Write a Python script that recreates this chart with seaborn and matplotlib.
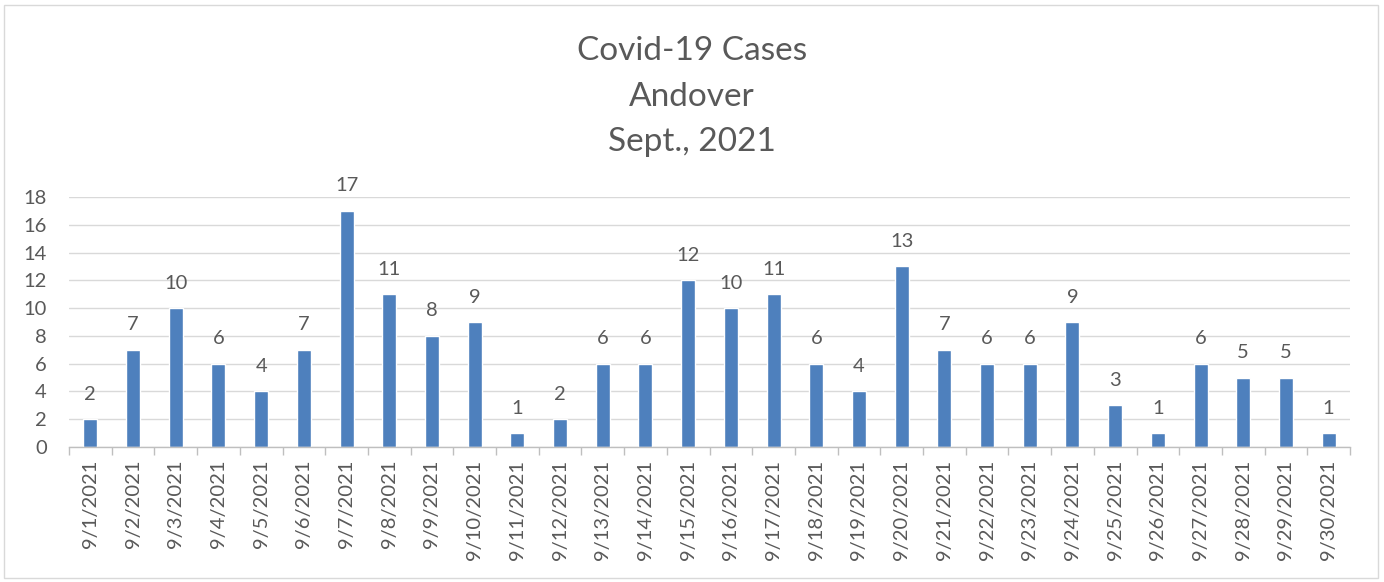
import matplotlib
matplotlib.use("Agg")
import matplotlib.pyplot as plt
import seaborn as sns
import pandas as pd
from matplotlib.patches import Rectangle
from matplotlib.ticker import FixedLocator

dates = [f"9/{d}/2021" for d in range(1, 31)]
cases = [2, 7, 10, 6, 4, 7, 17, 11, 8, 9, 1, 2, 6, 6, 12, 10, 11, 6, 4, 13,
         7, 6, 6, 9, 3, 1, 6, 5, 5, 1]
title_lines = ["Covid-19 Cases", "Andover", "Sept., 2021"]
yticks = list(range(0, 19, 2))

sns.set_theme(style="white")
plt.rcParams['font.family'] = ['Lato', 'DejaVu Sans']
TXT = "#595959"
BAR = "#4E80BD"

df = pd.DataFrame({"date": dates, "cases": cases})

fig = plt.figure(figsize=(13.84, 5.82), dpi=100)
ax = fig.add_axes([69/1384, 1-447/582, (1350-69)/1384, (447-197)/582])

sns.barplot(data=df, x="date", y="cases", order=dates, color=BAR,
            width=0.33, saturation=1, ax=ax)

ax.set_ylim(0, 18)
ax.set_xlim(-0.5, len(dates)-0.5)
ax.set_yticks(yticks)
ax.set_yticklabels([str(t) for t in yticks], color=TXT, fontsize=14.5)
ax.set_xticks(range(len(dates)))
ax.set_xticklabels(dates, rotation=90, color=TXT, fontsize=14.5)
ax.tick_params(axis="y", length=0, pad=16)
ax.tick_params(axis="x", length=0, pad=9)
ax.set_xlabel("")
ax.set_ylabel("")
ax.grid(axis="y", color="#d9d9d9", linewidth=1)
ax.set_axisbelow(True)
for s in ["top", "right", "left"]:
    ax.spines[s].set_visible(False)
ax.spines["bottom"].set_color("#bfbfbf")
ax.spines["bottom"].set_linewidth(1)

# category boundary tick marks
ax.xaxis.set_minor_locator(FixedLocator([i - 0.5 for i in range(len(dates) + 1)]))
ax.tick_params(axis="x", which="minor", length=6, color="#bfbfbf", width=1, bottom=True)

for i, v in enumerate(cases):
    ax.text(i, v + 1.8, str(v), ha="center", va="center", color=TXT,
            fontsize=14.5, clip_on=False)

for k, line in enumerate(title_lines):
    fig.text(0.5, 1 - (51 + k * 45.5) / 582, line, ha="center", va="center",
             color=TXT, fontsize=24)

fig.patches.append(Rectangle((4/1384, 4/582), 1374/1384, 573/582,
                             transform=fig.transFigure, fill=False,
                             edgecolor="#d9d9d9", linewidth=1))

fig.savefig("out.png", dpi=100)
